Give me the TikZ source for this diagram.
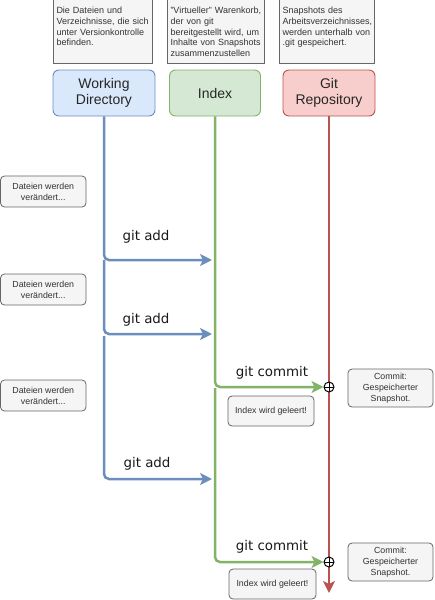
\documentclass[tikz,border=0pt]{standalone}
\usepackage{fontspec}
\setmainfont{Liberation Sans}
\newfontfamily\cmdfont{DejaVu Sans}
\usepackage{xcolor}
\usepackage{tikz}
\usetikzlibrary{positioning}
\usetikzlibrary{calc}
\usetikzlibrary{arrows.meta}
\definecolor{wdfill}{HTML}{DAE8FC}
\definecolor{wdline}{HTML}{6C8EBF}
\definecolor{ixfill}{HTML}{D5E8D4}
\definecolor{ixline}{HTML}{82B366}
\definecolor{repofill}{HTML}{F8CECC}
\definecolor{repoline}{HTML}{B85450}
\definecolor{notefill}{HTML}{F5F5F5}
\definecolor{noteline}{HTML}{666666}
\definecolor{notetext}{HTML}{333333}

\begin{document}
\begin{tikzpicture}[x=1pt,y=-1pt,
  head/.style={draw,rounded corners=6pt,line width=0.9pt,minimum height=46pt,inner sep=0pt,align=center,font=\fontsize{14}{16.5}\selectfont,text=black!85},
  topnote/.style={draw=noteline,fill=notefill,line width=1pt,anchor=north west,inner sep=3pt,align=left,text height=13pt,text depth=47pt,font=\fontsize{9}{10.8}\selectfont,text=notetext},
  note/.style={draw=noteline,fill=notefill,rounded corners=4pt,line width=0.8pt,inner sep=0pt,align=center,font=\fontsize{8.8}{11}\selectfont,text=notetext},
  flow/.style={line width=2.5pt,rounded corners=5pt,-{Stealth[length=12pt,width=12pt,inset=3pt]}},
  cmd/.style={font=\cmdfont\fontsize{13.4}{16}\selectfont,text=black!90},
  joint/.style={circle,draw,fill=white,line width=1pt,minimum size=10pt,inner sep=0pt,
    path picture={\draw[line width=0.9pt] (path picture bounding box.north) -- (path picture bounding box.south) (path picture bounding box.west) -- (path picture bounding box.east);}}]
\useasboundingbox (0,0) rectangle (434,600);

\node[topnote,text width=93pt] (wdinfo) at (53,-3) {Die Dateien und\\Verzeichnisse, die sich\\unter Versionkontrolle\\befinden.};
\node[topnote,text width=91pt] (ixinfo) at (167,-3) {"Virtueller" Warenkorb,\\der von git\\bereitgestellt wird, um\\Inhalte von Snapshots\\zusammenzustellen};
\node[topnote,text width=89pt] (repoinfo) at (279,-3) {Snapshots des\\Arbeitsverzeichnisses,\\werden unterhalb von\\.git gespeichert.};

\node[head,draw=wdline,fill=wdfill,minimum width=102pt] (wd) at (104,93) {Working\\Directory};
\node[head,draw=ixline,fill=ixfill,minimum width=91pt] (ix) at (215,93) {Index};
\node[head,draw=repoline,fill=repofill,minimum width=92pt] (repo) at (329,93) {Git\\Repository};

\node[note,minimum width=85.5pt,minimum height=31pt] (change1) at (43.25,191.5) {Dateien werden\\verändert...};
\node[note,minimum width=85.5pt,minimum height=31pt] (change2) at (43.25,289.5) {Dateien werden\\verändert...};
\node[note,minimum width=85.5pt,minimum height=31pt] (change3) at (43.25,395.5) {Dateien werden\\verändert...};

\coordinate (add1) at (212,260);
\coordinate (add2) at (212,334);
\coordinate (add3) at (212,479);
\coordinate (repoend) at (329,593);

\draw[flow,repoline] (repo.south) -- (repoend);

\node[joint] (commit1) at (329,387) {};
\node[joint] (commit2) at (329,562) {};

\draw[flow,wdline] (wd.south) |- (add1);
\draw[flow,wdline] (wd.south |- add1) |- (add2);
\draw[flow,wdline] ($(wd.south |- add2)+(0,2)$) |- (add3);

\draw[flow,ixline] (ix.south) |- (commit1);
\draw[flow,ixline] ($(ix.south |- commit1)+(0,1)$) |- (commit2);

\node[cmd] (addtext1) at (146,237) {git add};
\node[cmd] (addtext2) at (146,320) {git add};
\node[cmd] (addtext3) at (147,464) {git add};
\node[cmd] (committext1) at (272,373) {git commit};
\node[cmd] (committext2) at (272,547) {git commit};

\node[note,minimum width=86pt,minimum height=30pt] (clear1) at (271,411) {Index wird geleert!};
\node[note,minimum width=87pt,minimum height=30pt] (clear2) at (272.5,584) {Index wird geleert!};
\node[note,minimum width=85pt,minimum height=38pt] (snap1) at (390.5,388) {Commit:\\Gespeicherter\\Snapshot.};
\node[note,minimum width=85pt,minimum height=38pt] (snap2) at (390.5,562) {Commit:\\Gespeicherter\\Snapshot.};
\end{tikzpicture}
\end{document}
